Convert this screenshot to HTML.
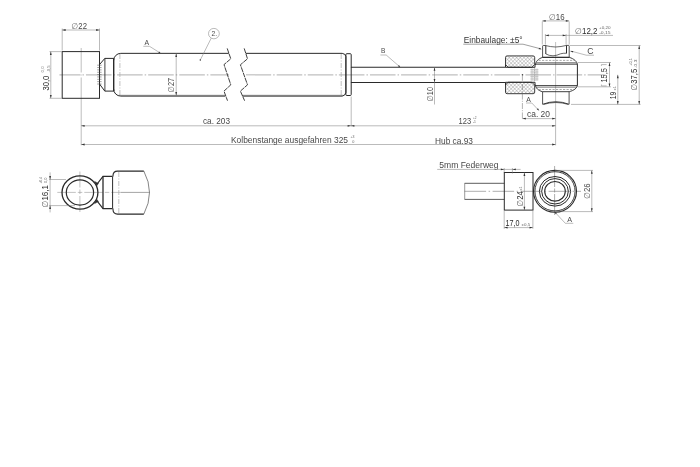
<!DOCTYPE html>
<html lang="de">
<head>
<meta charset="utf-8">
<title>Zeichnung</title>
<style>
html,body{margin:0;padding:0;background:#fff;}
body{width:700px;height:467px;overflow:hidden;}
svg{display:block;filter:grayscale(1);}
text{font-family:"Liberation Sans",sans-serif;}
</style>
</head>
<body>
<svg width="700" height="467" viewBox="0 0 700 467">
<defs>
<pattern id="hatch" width="2.6" height="2.6" patternUnits="userSpaceOnUse" patternTransform="rotate(45)">
<rect width="2.6" height="2.6" fill="#fff"/>
<path d="M0 0H2.6M0 0V2.6" stroke="#707070" stroke-width="0.55" fill="none"/>
</pattern>
</defs>
<rect width="700" height="467" fill="#fff"/>

<g id="centre">
<line x1="59.4" y1="74.8" x2="229" y2="74.8" stroke="#c0c0c0" stroke-width="1.2" stroke-dasharray="25.6 2 1.5 2" stroke-dashoffset="4.55"/>
<line x1="246" y1="74.8" x2="604" y2="74.8" stroke="#c0c0c0" stroke-width="1.2" stroke-dasharray="25.6 2 1.5 2" stroke-dashoffset="0.45"/>
<line x1="81.2" y1="48" x2="81.2" y2="100" stroke="#b0b0b0" stroke-width="0.8" stroke-dasharray="24.5 2 1 2 40"/>
<line x1="119.9" y1="54" x2="119.9" y2="95" stroke="#b0b0b0" stroke-width="0.8" stroke-dasharray="5 1.5 1 1.5"/>
<line x1="341.2" y1="54" x2="341.2" y2="95" stroke="#b0b0b0" stroke-width="0.8" stroke-dasharray="5 1.5 1 1.5"/>
<line x1="555.6" y1="42" x2="555.6" y2="108" stroke="#b4b4b4" stroke-width="0.8" />
</g>
<g id="topview">
<rect x="62.2" y="51.6" width="37.3" height="46.7" fill="none" stroke="#2a2a2a" stroke-width="1"/>
<line x1="97.2" y1="65.2" x2="101.6" y2="65.2" stroke="#444" stroke-width="0.5" />
<line x1="97.2" y1="67.55" x2="101.6" y2="67.55" stroke="#444" stroke-width="0.5" />
<line x1="97.2" y1="69.9" x2="101.6" y2="69.9" stroke="#444" stroke-width="0.5" />
<line x1="97.2" y1="72.25" x2="101.6" y2="72.25" stroke="#444" stroke-width="0.5" />
<line x1="97.2" y1="74.60000000000001" x2="101.6" y2="74.60000000000001" stroke="#444" stroke-width="0.5" />
<line x1="97.2" y1="76.95" x2="101.6" y2="76.95" stroke="#444" stroke-width="0.5" />
<line x1="97.2" y1="79.30000000000001" x2="101.6" y2="79.30000000000001" stroke="#444" stroke-width="0.5" />
<line x1="97.2" y1="81.65" x2="101.6" y2="81.65" stroke="#444" stroke-width="0.5" />
<line x1="97.2" y1="84.0" x2="101.6" y2="84.0" stroke="#444" stroke-width="0.5" />
<path d="M99.5 64.6L104.8 58.4H113.6M99.5 84L104.8 91.1H113.6" stroke="#2a2a2a" stroke-width="1.0" fill="none" />
<line x1="104.9" y1="58.4" x2="104.9" y2="91.1" stroke="#2a2a2a" stroke-width="0.9" />
<line x1="113.7" y1="58.2" x2="113.7" y2="91.3" stroke="#2a2a2a" stroke-width="1.4" />
<path d="M113.6 60.6A7.2 7.3 0 0 1 120.8 53.35H228.8M245.8 53.35H342.2Q345.6 53.7 345.9 56.6V92.7" stroke="#2a2a2a" stroke-width="1.0" fill="none" />
<path d="M113.6 89A7.2 7.1 0 0 0 120.8 96.1H225.2M242.6 96.1H342.2Q345.4 95.7 345.8 92.6" stroke="#2a2a2a" stroke-width="1.0" fill="none" />
<path d="M118.5 95.3H225M242.4 95.3H343.5" stroke="#555" stroke-width="0.6" fill="none" />
<rect x="345.9" y="53.7" width="5.3" height="41.8" rx="0.9" fill="none" stroke="#2a2a2a" stroke-width="1"/>
<path d="M227.2 48.4L230.8 58.8L224 64.6L230.8 84.8L224 91.1L227.5 100.7" stroke="#2a2a2a" stroke-width="0.9" fill="none" stroke-dasharray="5 0.7"/>
<path d="M244.2 48.4L247.5 58.8L240.4 64.8L247.5 84.8L240.4 91.1L244.6 100.7" stroke="#2a2a2a" stroke-width="0.9" fill="none" stroke-dasharray="5 0.7"/>
<line x1="350.9" y1="67.2" x2="505.5" y2="67.2" stroke="#2a2a2a" stroke-width="1.1" />
<line x1="350.9" y1="82.5" x2="505.5" y2="82.5" stroke="#2a2a2a" stroke-width="1.2" />
<path d="M505.5 64.6V57.5Q505.5 55.9 507.1 55.9H533.1Q534.7 55.9 534.7 57.5V64.4L531.9 67.3H508.2Z" stroke="#2a2a2a" stroke-width="0.9" fill="url(#hatch)" />
<path d="M505.5 84.9V92.1Q505.5 93.7 507.1 93.7H533.1Q534.7 93.7 534.7 92.1V85.1L531.9 82.3H508.2Z" stroke="#2a2a2a" stroke-width="0.9" fill="url(#hatch)" />
<path d="M505.5 64.4V67.3H535V64.2M505.5 85.1V82.3H535V85.3" stroke="#2a2a2a" stroke-width="1.0" fill="none" />
<circle cx="522.4" cy="74.8" r="0.7" fill="#444"/>
<line x1="530.4" y1="69.4" x2="538.4" y2="69.4" stroke="#aaa" stroke-width="0.7" />
<line x1="530.4" y1="71.15" x2="538.4" y2="71.15" stroke="#aaa" stroke-width="0.7" />
<line x1="530.4" y1="72.9" x2="538.4" y2="72.9" stroke="#aaa" stroke-width="0.7" />
<line x1="530.4" y1="74.65" x2="538.4" y2="74.65" stroke="#aaa" stroke-width="0.7" />
<line x1="530.4" y1="76.4" x2="538.4" y2="76.4" stroke="#aaa" stroke-width="0.7" />
<line x1="530.4" y1="78.15" x2="538.4" y2="78.15" stroke="#aaa" stroke-width="0.7" />
<line x1="530.4" y1="79.9" x2="538.4" y2="79.9" stroke="#aaa" stroke-width="0.7" />
<path d="M532 68.6V80.6M534.5 68V81.4M537 68.6V80.6" stroke="#bbb" stroke-width="0.6" fill="none" />
<path d="M535.5 65C535.5 61.5 538.5 58.6 542.6 57.4H569.4C573.6 58.6 577.4 61.5 577.4 65" stroke="#2a2a2a" stroke-width="0.9" fill="none" />
<path d="M535.5 84.8C535.5 88.2 538.5 90.6 542.4 91.7H569.2C573.6 90.6 577.4 88.2 577.4 84.8" stroke="#2a2a2a" stroke-width="0.9" fill="none" />
<line x1="536.4" y1="62.5" x2="576.4" y2="62.5" stroke="#2a2a2a" stroke-width="0.5" />
<line x1="535.3" y1="64.1" x2="577.4" y2="64.1" stroke="#2a2a2a" stroke-width="1.0" />
<line x1="535.3" y1="85.7" x2="577.4" y2="85.7" stroke="#2a2a2a" stroke-width="1.0" />
<line x1="536.4" y1="87.3" x2="576.4" y2="87.3" stroke="#2a2a2a" stroke-width="0.5" />
<line x1="534.8" y1="67" x2="534.8" y2="82.5" stroke="#888" stroke-width="0.4" stroke-dasharray="1.5 1"/>
<line x1="577.4" y1="64.8" x2="577.4" y2="85" stroke="#2a2a2a" stroke-width="1.0" />
<line x1="538.5" y1="60.4" x2="574" y2="60.4" stroke="#555" stroke-width="0.5" stroke-dasharray="2.2 1.3"/>
<line x1="538.5" y1="89.5" x2="574" y2="89.5" stroke="#555" stroke-width="0.5" stroke-dasharray="2.2 1.3"/>
<path d="M542.6 57.4V46.2Q542.6 45.5 543.3 45.5H545.8M566.5 45.4H568.5Q569.2 45.4 569.2 46.1V57.4" stroke="#2a2a2a" stroke-width="0.8" fill="none" />
<line x1="545.8" y1="45.5" x2="545.8" y2="54.0" stroke="#2a2a2a" stroke-width="1.0" />
<line x1="566.5" y1="45.4" x2="566.5" y2="53.4" stroke="#2a2a2a" stroke-width="1.0" />
<path d="M545.8 45.6Q550 46.8 555.6 47.0Q561 46.8 566.5 45.4" stroke="#2a2a2a" stroke-width="0.7" fill="none" />
<path d="M545.8 53.9Q549 55.8 553 55.8Q557 55.6 560.5 53.8Q563 53.1 566.5 53.2" stroke="#2a2a2a" stroke-width="0.7" fill="none" />
<line x1="542.6" y1="57.3" x2="569.4" y2="57.3" stroke="#2a2a2a" stroke-width="1.0" />
<path d="M542.6 91.7V104.2M569.1 91.7V104.2" stroke="#2a2a2a" stroke-width="0.8" fill="none" />
<path d="M542.6 104.3Q555.8 99.2 569.1 104.3" stroke="#2a2a2a" stroke-width="0.9" fill="none" />
<path d="M543.6 104.4Q555.8 100.6 568.2 104.4" stroke="#2a2a2a" stroke-width="0.7" fill="none" />
</g>
<g id="dims">
<line x1="62.2" y1="28.5" x2="62.2" y2="50.5" stroke="#777" stroke-width="0.5" />
<line x1="99.5" y1="28.5" x2="99.5" y2="50.5" stroke="#777" stroke-width="0.5" />
<line x1="62.2" y1="30" x2="99.5" y2="30" stroke="#777" stroke-width="0.5" />
<polygon points="62.20,30.00 65.60,29.10 65.60,30.90" fill="#333"/>
<polygon points="99.50,30.00 96.10,30.90 96.10,29.10" fill="#333"/>
<text x="71.6" y="28.6" font-size="8.6" fill="#484848" text-anchor="start" textLength="15.4" lengthAdjust="spacingAndGlyphs" ><tspan font-family="DejaVu Sans" font-style="italic" fill="#666">&#8709;</tspan>22</text>
<line x1="49.5" y1="51.6" x2="61.5" y2="51.6" stroke="#777" stroke-width="0.5" />
<line x1="49.5" y1="98.3" x2="61.5" y2="98.3" stroke="#777" stroke-width="0.5" />
<line x1="50.8" y1="51.6" x2="50.8" y2="98.3" stroke="#777" stroke-width="0.5" />
<polygon points="50.80,51.60 51.70,55.00 49.90,55.00" fill="#333"/>
<polygon points="50.80,98.30 49.90,94.90 51.70,94.90" fill="#333"/>
<text x="49" y="90.6" font-size="8.8" fill="#2c2c2c" text-anchor="start" textLength="15" lengthAdjust="spacingAndGlyphs" transform="rotate(-90 49 90.6)" >30,0</text>
<text x="43.6" y="72.6" font-size="4.4" fill="#777" text-anchor="start" textLength="6.4" lengthAdjust="spacingAndGlyphs" transform="rotate(-90 43.6 72.6)" >0,0</text>
<text x="50.2" y="72.6" font-size="4.4" fill="#777" text-anchor="start" textLength="7.2" lengthAdjust="spacingAndGlyphs" transform="rotate(-90 50.2 72.6)" >-0,5</text>
<text x="144.5" y="45" font-size="7.6" fill="#484848" text-anchor="start" textLength="4.6" lengthAdjust="spacingAndGlyphs" >A</text>
<path d="M143.3 46.3H149.5L160.5 53.2" stroke="#777" stroke-width="0.5" fill="none" />
<polygon points="160.80,53.40 158.39,52.72 159.14,51.53" fill="#333"/>
<ellipse cx="213.9" cy="33.6" rx="5.4" ry="5.2" fill="none" stroke="#777" stroke-width="0.5"/>
<text x="211.6" y="36.3" font-size="8.0" fill="#484848" text-anchor="start" textLength="5.6" lengthAdjust="spacingAndGlyphs" >2.</text>
<line x1="211.2" y1="38.2" x2="200.4" y2="59.8" stroke="#777" stroke-width="0.5" />
<circle cx="200.3" cy="60" r="0.7" fill="#333"/>
<line x1="176.2" y1="53.3" x2="176.2" y2="95.6" stroke="#777" stroke-width="0.5" />
<polygon points="176.20,53.50 177.10,56.90 175.30,56.90" fill="#333"/>
<polygon points="176.20,95.40 175.30,92.00 177.10,92.00" fill="#333"/>
<text x="174.4" y="92.4" font-size="8.4" fill="#484848" text-anchor="start" textLength="14.6" lengthAdjust="spacingAndGlyphs" transform="rotate(-90 174.4 92.4)" ><tspan font-family="DejaVu Sans" font-style="italic" fill="#666">&#8709;</tspan>27</text>
<text x="381" y="53.4" font-size="7.6" fill="#484848" text-anchor="start" textLength="4.4" lengthAdjust="spacingAndGlyphs" >B</text>
<path d="M380.4 55H386.2L400 67" stroke="#777" stroke-width="0.5" fill="none" />
<polygon points="400.30,67.20 398.03,66.15 398.95,65.10" fill="#333"/>
<line x1="434.5" y1="67.1" x2="434.5" y2="104.5" stroke="#777" stroke-width="0.5" />
<polygon points="434.50,67.30 435.40,70.70 433.60,70.70" fill="#333"/>
<polygon points="434.50,82.30 433.60,78.90 435.40,78.90" fill="#333"/>
<text x="433" y="101.6" font-size="8.4" fill="#484848" text-anchor="start" textLength="14.6" lengthAdjust="spacingAndGlyphs" transform="rotate(-90 433 101.6)" ><tspan font-family="DejaVu Sans" font-style="italic" fill="#666">&#8709;</tspan>10</text>
<text x="463.8" y="42.6" font-size="8.6" fill="#333" text-anchor="start" textLength="58.8" lengthAdjust="spacingAndGlyphs" >Einbaulage: ±5°</text>
<path d="M463.3 44.2H523L541 48.9" stroke="#777" stroke-width="0.7" fill="none" />
<polygon points="541.80,49.20 538.70,49.37 539.03,47.80" fill="#333"/>
<line x1="542.3" y1="21.5" x2="542.3" y2="44.5" stroke="#777" stroke-width="0.5" />
<line x1="569.2" y1="21.5" x2="569.2" y2="44.5" stroke="#777" stroke-width="0.5" />
<line x1="542.3" y1="20.9" x2="569.2" y2="20.9" stroke="#777" stroke-width="0.5" />
<polygon points="542.30,20.90 545.70,20.00 545.70,21.80" fill="#333"/>
<polygon points="569.20,20.90 565.80,21.80 565.80,20.00" fill="#333"/>
<text x="549" y="19.8" font-size="8.6" fill="#484848" text-anchor="start" textLength="15.6" lengthAdjust="spacingAndGlyphs" ><tspan font-family="DejaVu Sans" font-style="italic" fill="#666">&#8709;</tspan>16</text>
<line x1="545.4" y1="34" x2="545.4" y2="44.6" stroke="#777" stroke-width="0.5" />
<line x1="566.1" y1="34" x2="566.1" y2="44.6" stroke="#777" stroke-width="0.5" />
<line x1="545.4" y1="35.4" x2="613" y2="35.4" stroke="#777" stroke-width="0.5" />
<polygon points="545.40,35.40 548.80,34.50 548.80,36.30" fill="#333"/>
<polygon points="566.10,35.40 562.70,36.30 562.70,34.50" fill="#333"/>
<text x="575" y="33.7" font-size="8.6" fill="#2c2c2c" text-anchor="start" textLength="22.5" lengthAdjust="spacingAndGlyphs" ><tspan font-family="DejaVu Sans" font-style="italic" fill="#666">&#8709;</tspan>12,2</text>
<text x="599" y="28.7" font-size="3.7" fill="#666" text-anchor="start" textLength="11.6" lengthAdjust="spacingAndGlyphs" >+0,20</text>
<text x="599.2" y="33.6" font-size="3.7" fill="#666" text-anchor="start" textLength="11.4" lengthAdjust="spacingAndGlyphs" >-0,15</text>
<text x="587.3" y="54" font-size="8.4" fill="#484848" text-anchor="start" textLength="6.3" lengthAdjust="spacingAndGlyphs" >C</text>
<path d="M570.6 51L586.3 55.2H594" stroke="#777" stroke-width="0.5" fill="none" />
<polygon points="570.20,50.90 573.30,50.90 572.89,52.45" fill="#333"/>
<line x1="570" y1="45.5" x2="640.6" y2="45.5" stroke="#777" stroke-width="0.5" />
<line x1="571" y1="104.4" x2="640.6" y2="104.4" stroke="#777" stroke-width="0.5" />
<line x1="639.2" y1="45.5" x2="639.2" y2="104.4" stroke="#777" stroke-width="0.5" />
<polygon points="639.20,45.50 640.10,48.90 638.30,48.90" fill="#333"/>
<polygon points="639.20,104.40 638.30,101.00 640.10,101.00" fill="#333"/>
<text x="636.9" y="90.4" font-size="8.6" fill="#2c2c2c" text-anchor="start" textLength="21.6" lengthAdjust="spacingAndGlyphs" transform="rotate(-90 636.9 90.4)" ><tspan font-family="DejaVu Sans" font-style="italic" fill="#666">&#8709;</tspan>37,5</text>
<text x="632.2" y="65.8" font-size="3.9" fill="#666" text-anchor="start" textLength="7.6" lengthAdjust="spacingAndGlyphs" transform="rotate(-90 632.2 65.8)" >+0,1</text>
<text x="636.9" y="68" font-size="4.3" fill="#666" text-anchor="start" textLength="8.4" lengthAdjust="spacingAndGlyphs" transform="rotate(-90 636.9 68)" >-0,3</text>
<line x1="578" y1="62.5" x2="611" y2="62.5" stroke="#777" stroke-width="0.5" />
<line x1="578" y1="86.8" x2="611" y2="86.8" stroke="#777" stroke-width="0.5" />
<line x1="609.5" y1="62.5" x2="609.5" y2="86.8" stroke="#777" stroke-width="0.5" />
<polygon points="609.50,62.50 610.40,65.90 608.60,65.90" fill="#333"/>
<polygon points="609.50,86.80 608.60,83.40 610.40,83.40" fill="#333"/>
<text x="607.4" y="82.6" font-size="8.6" fill="#2c2c2c" text-anchor="start" textLength="14.6" lengthAdjust="spacingAndGlyphs" transform="rotate(-90 607.4 82.6)" >15,5</text>
<path d="M606.6 64.6H601.4V66M606.6 85.9H601.4V84.5" stroke="#777" stroke-width="0.5" fill="none" />
<line x1="617.8" y1="74.8" x2="617.8" y2="104.4" stroke="#777" stroke-width="0.5" />
<polygon points="617.80,74.80 618.70,78.20 616.90,78.20" fill="#333"/>
<polygon points="617.80,104.40 616.90,101.00 618.70,101.00" fill="#333"/>
<text x="615.8" y="99.2" font-size="8.6" fill="#2c2c2c" text-anchor="start" textLength="7.6" lengthAdjust="spacingAndGlyphs" transform="rotate(-90 615.8 99.2)" >19</text>
<text x="616" y="90.4" font-size="4.3" fill="#666" text-anchor="start" textLength="4.4" lengthAdjust="spacingAndGlyphs" transform="rotate(-90 616 90.4)" >±1</text>
<text x="526.3" y="101.8" font-size="7.6" fill="#484848" text-anchor="start" textLength="4.6" lengthAdjust="spacingAndGlyphs" >A</text>
<path d="M526 103H531.8L538.6 110.2" stroke="#777" stroke-width="0.5" fill="none" />
<polygon points="539.20,110.80 536.78,109.18 538.00,108.15" fill="#333"/>
<line x1="522.4" y1="74.8" x2="522.4" y2="119.6" stroke="#666" stroke-width="0.5" stroke-dasharray="6 1.2 1 1.2"/>
<line x1="522.4" y1="118.6" x2="555.6" y2="118.6" stroke="#777" stroke-width="0.5" />
<polygon points="522.40,118.60 525.80,117.70 525.80,119.50" fill="#333"/>
<polygon points="555.60,118.60 552.20,119.50 552.20,117.70" fill="#333"/>
<text x="527" y="116.6" font-size="8.6" fill="#484848" text-anchor="start" textLength="23" lengthAdjust="spacingAndGlyphs" >ca. 20</text>
<line x1="81.2" y1="100" x2="81.2" y2="145.3" stroke="#bdbdbd" stroke-width="1.0" />
<line x1="351.2" y1="96.5" x2="351.2" y2="126.5" stroke="#777" stroke-width="0.5" />
<line x1="555.6" y1="108" x2="555.6" y2="145.3" stroke="#777" stroke-width="0.5" />
<line x1="81.2" y1="125.8" x2="555.6" y2="125.8" stroke="#777" stroke-width="0.5" />
<line x1="81.2" y1="144.5" x2="555.6" y2="144.5" stroke="#777" stroke-width="0.5" />
<polygon points="81.20,125.80 84.60,124.90 84.60,126.70" fill="#333"/>
<polygon points="351.00,125.80 347.60,126.70 347.60,124.90" fill="#333"/>
<polygon points="351.00,125.80 354.40,124.90 354.40,126.70" fill="#333"/>
<polygon points="555.60,125.80 552.20,126.70 552.20,124.90" fill="#333"/>
<polygon points="81.20,144.50 84.60,143.60 84.60,145.40" fill="#333"/>
<polygon points="555.60,144.50 552.20,145.40 552.20,143.60" fill="#333"/>
<text x="203" y="124.2" font-size="8.4" fill="#484848" text-anchor="start" textLength="27" lengthAdjust="spacingAndGlyphs" >ca. 203</text>
<text x="231" y="143.2" font-size="8.4" fill="#484848" text-anchor="start" textLength="117" lengthAdjust="spacingAndGlyphs" >Kolbenstange ausgefahren 325</text>
<text x="350.4" y="138" font-size="3.8" fill="#666" text-anchor="start" textLength="4" lengthAdjust="spacingAndGlyphs" >+3</text>
<text x="352.2" y="143.2" font-size="3.8" fill="#666" text-anchor="start" >0</text>
<text x="458.6" y="124" font-size="8.4" fill="#484848" text-anchor="start" textLength="12.6" lengthAdjust="spacingAndGlyphs" >123</text>
<text x="473" y="119.4" font-size="3.8" fill="#666" text-anchor="start" textLength="3.6" lengthAdjust="spacingAndGlyphs" >+2</text>
<text x="473" y="123.2" font-size="3.8" fill="#666" text-anchor="start" textLength="3" lengthAdjust="spacingAndGlyphs" >-1</text>
<text x="435" y="143.6" font-size="8.4" fill="#484848" text-anchor="start" textLength="38" lengthAdjust="spacingAndGlyphs" >Hub ca.93</text>
</g>
<g id="bl">
<line x1="57.3" y1="192.4" x2="121" y2="192.4" stroke="#999" stroke-width="0.6" stroke-dasharray="18.5 2 4.5 2"/>
<line x1="121" y1="192.4" x2="149.6" y2="192.4" stroke="#666" stroke-width="0.6" />
<line x1="79.9" y1="171.5" x2="79.9" y2="213.2" stroke="#999" stroke-width="0.6" stroke-dasharray="16 2 4.5 2"/>
<line x1="118.8" y1="172" x2="118.8" y2="213" stroke="#b0b0b0" stroke-width="0.8" stroke-dasharray="5 1.5 1 1.5"/>
<ellipse cx="79.95" cy="192.5" rx="17.95" ry="16.7" fill="none" stroke="#2a2a2a" stroke-width="1.3"/>
<ellipse cx="79.95" cy="192.5" rx="13.65" ry="12.6" fill="none" stroke="#2a2a2a" stroke-width="1.2"/>
<path d="M94.6 181.4L98.4 183.4L96.8 185.8Z M94.6 203.6L98.4 201.6L96.8 199.2Z" fill="#2a2a2a" stroke="#2a2a2a" stroke-width="0.5"/>
<path d="M97.4 183.6L103 176.4H112.4M97.4 201.4L103 208.6H112.4" stroke="#2a2a2a" stroke-width="1.1" fill="none" />
<line x1="103" y1="176.4" x2="103" y2="208.6" stroke="#2a2a2a" stroke-width="1.3" />
<line x1="112.6" y1="176.4" x2="112.6" y2="208.6" stroke="#2a2a2a" stroke-width="1.0" />
<path d="M113 176.5V175.4Q113.2 171.1 117.5 171.1H143.8M113 208.5V209.8Q113.2 214.1 117.5 214.1H143.8" stroke="#2a2a2a" stroke-width="1.1" fill="none" />
<path d="M143.8 171Q155.2 192.5 143.8 214.1" stroke="#333" stroke-width="0.6" fill="none" />
<line x1="49" y1="179.5" x2="66" y2="179.5" stroke="#777" stroke-width="0.5" />
<line x1="49" y1="205.6" x2="75" y2="205.6" stroke="#777" stroke-width="0.5" />
<line x1="50.1" y1="172.4" x2="50.1" y2="212.4" stroke="#777" stroke-width="0.5" />
<polygon points="50.10,179.50 49.20,176.10 51.00,176.10" fill="#333"/>
<polygon points="50.10,205.60 51.00,209.00 49.20,209.00" fill="#333"/>
<text x="48.2" y="207.6" font-size="8.6" fill="#2c2c2c" text-anchor="start" textLength="22.6" lengthAdjust="spacingAndGlyphs" transform="rotate(-90 48.2 207.6)" ><tspan font-family="DejaVu Sans" font-style="italic" fill="#666">&#8709;</tspan>16,1</text>
<text x="42.2" y="183.6" font-size="4.2" fill="#666" text-anchor="start" textLength="6.6" lengthAdjust="spacingAndGlyphs" transform="rotate(-90 42.2 183.6)" >+0,4</text>
<text x="46.6" y="183" font-size="4.2" fill="#666" text-anchor="start" textLength="5.4" lengthAdjust="spacingAndGlyphs" transform="rotate(-90 46.6 183)" >0,0</text>
</g>
<g id="br">
<line x1="464.6" y1="191.3" x2="581" y2="191.3" stroke="#777" stroke-width="0.6" stroke-dasharray="21.5 2.5 1.5 2.5"/>
<line x1="554.6" y1="166" x2="554.6" y2="215" stroke="#777" stroke-width="0.6" stroke-dasharray="21 1.5 4 1.5"/>
<path d="M504.3 183.3H464.6M504.3 199.4H464.6" stroke="#333" stroke-width="0.8" fill="none" />
<line x1="464.7" y1="183.3" x2="464.7" y2="199.4" stroke="#555" stroke-width="0.6" />
<rect x="504.3" y="172.5" width="28.7" height="37.6" fill="none" stroke="#2a2a2a" stroke-width="1"/>
<ellipse cx="555" cy="191.3" rx="21.5" ry="20.9" fill="none" stroke="#2a2a2a" stroke-width="1.1"/>
<ellipse cx="555" cy="191.3" rx="20.1" ry="19.6" fill="none" stroke="#2a2a2a" stroke-width="0.9"/>
<ellipse cx="555" cy="191.3" rx="15.6" ry="14.8" fill="none" stroke="#2a2a2a" stroke-width="1.0"/>
<ellipse cx="555" cy="191.3" rx="13.3" ry="12.7" fill="none" stroke="#2a2a2a" stroke-width="1.0"/>
<ellipse cx="555" cy="191.3" rx="10.3" ry="9.8" fill="none" stroke="#2a2a2a" stroke-width="1.1"/>
<text x="439.3" y="167.6" font-size="8.6" fill="#484848" text-anchor="start" textLength="59.3" lengthAdjust="spacingAndGlyphs" >5mm Federweg</text>
<line x1="437.2" y1="169.4" x2="520.6" y2="169.4" stroke="#777" stroke-width="0.5" />
<line x1="504.2" y1="168" x2="504.2" y2="172.5" stroke="#777" stroke-width="0.5" />
<line x1="512.4" y1="168" x2="512.4" y2="173.5" stroke="#777" stroke-width="0.5" />
<polygon points="504.20,169.40 500.80,170.30 500.80,168.50" fill="#333"/>
<polygon points="512.40,169.40 515.80,168.50 515.80,170.30" fill="#333"/>
<line x1="524.4" y1="172.5" x2="524.4" y2="210.1" stroke="#777" stroke-width="0.5" />
<polygon points="524.40,172.50 525.30,175.90 523.50,175.90" fill="#333"/>
<polygon points="524.40,210.10 523.50,206.70 525.30,206.70" fill="#333"/>
<text x="523" y="206.5" font-size="8.6" fill="#2c2c2c" text-anchor="start" textLength="15.3" lengthAdjust="spacingAndGlyphs" transform="rotate(-90 523 206.5)" ><tspan font-family="DejaVu Sans" font-style="italic" fill="#666">&#8709;</tspan>24</text>
<text x="522.4" y="190.4" font-size="3.8" fill="#666" text-anchor="start" textLength="3.9" lengthAdjust="spacingAndGlyphs" transform="rotate(-90 522.4 190.4)" >±1</text>
<line x1="555" y1="170.4" x2="593" y2="170.4" stroke="#777" stroke-width="0.5" />
<line x1="555" y1="211.6" x2="593" y2="211.6" stroke="#777" stroke-width="0.5" />
<line x1="591.8" y1="170.4" x2="591.8" y2="211.6" stroke="#777" stroke-width="0.5" />
<polygon points="591.80,170.40 592.70,173.80 590.90,173.80" fill="#333"/>
<polygon points="591.80,211.60 590.90,208.20 592.70,208.20" fill="#333"/>
<text x="589.8" y="198.8" font-size="8.6" fill="#484848" text-anchor="start" textLength="15.4" lengthAdjust="spacingAndGlyphs" transform="rotate(-90 589.8 198.8)" ><tspan font-family="DejaVu Sans" font-style="italic" fill="#666">&#8709;</tspan>26</text>
<line x1="504.2" y1="211" x2="504.2" y2="228.8" stroke="#777" stroke-width="0.5" />
<line x1="532.9" y1="211" x2="532.9" y2="228.8" stroke="#777" stroke-width="0.5" />
<line x1="504.2" y1="227.6" x2="532.9" y2="227.6" stroke="#777" stroke-width="0.5" />
<polygon points="504.20,227.60 507.60,226.70 507.60,228.50" fill="#333"/>
<polygon points="532.90,227.60 529.50,228.50 529.50,226.70" fill="#333"/>
<text x="505.6" y="225.8" font-size="8.6" fill="#2c2c2c" text-anchor="start" textLength="14" lengthAdjust="spacingAndGlyphs" >17,0</text>
<text x="521.6" y="225.8" font-size="3.8" fill="#666" text-anchor="start" textLength="8.6" lengthAdjust="spacingAndGlyphs" >±0,5</text>
<text x="567.2" y="222.2" font-size="7.6" fill="#484848" text-anchor="start" textLength="4.8" lengthAdjust="spacingAndGlyphs" >A</text>
<path d="M573.3 223.3H565.3L554.8 212" stroke="#777" stroke-width="0.5" fill="none" />
<polygon points="554.40,211.60 556.89,213.11 555.72,214.20" fill="#333"/>
</g>
</svg>
</body>
</html>
